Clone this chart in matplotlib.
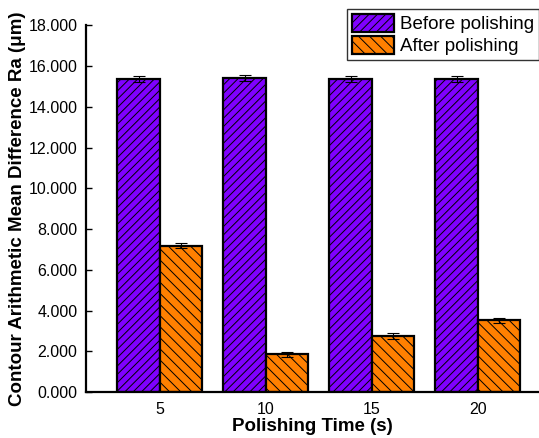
import matplotlib
matplotlib.use("Agg")
import matplotlib.pyplot as plt
import numpy as np
from matplotlib.ticker import FormatStrFormatter

plt.rcParams["font.family"] = ["Liberation Sans", "DejaVu Sans"]
plt.rcParams["hatch.linewidth"] = 0.7

times = [5, 10, 15, 20]
before = [15.38, 15.42, 15.38, 15.38]
before_err = [0.16, 0.16, 0.14, 0.16]
after = [7.19, 1.85, 2.75, 3.52]
after_err = [0.11, 0.11, 0.13, 0.12]

fig = plt.figure(figsize=(5.39, 4.38), dpi=100)
ax = fig.add_axes([0.159, 0.105, 0.841, 0.837])

x = np.array(times, dtype=float)
w = 2.0
err_kw = dict(ecolor="black", elinewidth=0.8, capsize=4, capthick=0.8)
ax.bar(x - w / 2, before, width=w, yerr=before_err, color="#8000ff",
       edgecolor="black", linewidth=1.6, hatch="////", label="Before polishing",
       error_kw=err_kw)
ax.bar(x + w / 2, after, width=w, yerr=after_err, color="#ff8000",
       edgecolor="black", linewidth=1.6, hatch="\\\\\\", label="After polishing",
       error_kw=err_kw)

ax.set_xlim(1.51, 22.88)
ax.set_ylim(0, 18)
ax.set_xticks(times)
ax.set_yticks(np.arange(0, 18.1, 2))
ax.yaxis.set_major_formatter(FormatStrFormatter("%.3f"))
ax.tick_params(axis="x", length=0, labelsize=11.5, pad=7)
ax.tick_params(axis="y", direction="in", length=4.5, width=1.0, labelsize=11.5, pad=6)
for s in ("top", "right"):
    ax.spines[s].set_visible(False)
for s in ("left", "bottom"):
    ax.spines[s].set_linewidth(1.6)

ax.set_xlabel("Polishing Time (s)", fontsize=13.5, fontweight="bold", labelpad=1)
ax.set_ylabel("Contour Arithmetic Mean Difference Ra (\u03bcm)", fontsize=13.5,
              fontweight="bold", labelpad=2)

leg = ax.legend(loc="upper right", bbox_to_anchor=(0.999, 1.045), fontsize=13.5,
                frameon=True, fancybox=False, borderpad=0.25, handlelength=2.25,
                handleheight=1.15, handletextpad=0.3, labelspacing=0.12,
                borderaxespad=0.0)
leg.get_frame().set_edgecolor("black")
leg.get_frame().set_linewidth(1.0)

fig.savefig("out.png", dpi=100)
